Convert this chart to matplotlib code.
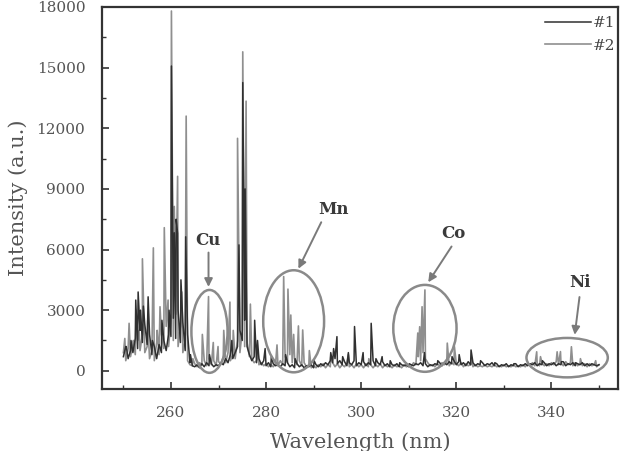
import numpy as np
import matplotlib
matplotlib.use("Agg")
import matplotlib.pyplot as plt
from matplotlib.patches import Ellipse

# ---------------- data ----------------
# baseline samples (0.5 nm spacing from 250 to 350 nm)
base_1 = [
    700, 1200, 600, 1000, 900, 1600, 1100, 2000, 1400, 2300,
    1300, 1800, 800, 1200, 600, 1300, 900, 1500, 1000, 1800,
    1700, 2600, 1600, 3000, 1400, 2400, 1000, 1800, 400, 250,
    200, 300, 150, 350, 200, 400, 250, 350, 200, 300,
    250, 400, 300, 600, 400, 800, 600, 900, 1200, 2000,
    1500, 2500, 1200, 800, 500, 700, 400, 600, 300, 500,
    250, 400, 200, 350, 250, 300, 200, 350, 250, 400,
    200, 300, 150, 350, 200, 300, 150, 250, 200, 300,
    150, 300, 200, 350, 250, 400, 300, 500, 400, 600,
    350, 500, 300, 450, 250, 400, 300, 500, 250, 400,
    300, 450, 250, 400, 300, 500, 250, 400, 300, 450,
    250, 350, 200, 300, 250, 350, 200, 300, 250, 300,
    200, 300, 250, 350, 300, 400, 250, 350, 200, 300,
    250, 350, 300, 400, 250, 400, 300, 450, 350, 500,
    300, 450, 300, 400, 250, 450, 300, 400, 250, 350,
    300, 400, 250, 350, 300, 400, 250, 350, 200, 300,
    250, 350, 200, 300, 250, 350, 200, 300, 250, 350,
    250, 350, 300, 400, 250, 350, 300, 400, 250, 350,
    300, 400, 250, 350, 300, 450, 250, 350, 300, 400,
    250, 350, 300, 400, 250, 350, 250, 350, 300, 250,
    300,
]
base_2 = [
    900, 500, 1100, 700, 1300, 800, 1500, 1000, 1800, 900,
    1200, 600, 1000, 500, 1400, 800, 1800, 1100, 2200, 1200,
    2500, 1500, 2800, 1200, 2200, 900, 1500, 500, 300, 250,
    350, 200, 400, 300, 500, 250, 600, 300, 500, 250,
    450, 350, 700, 400, 900, 500, 800, 600, 1500, 900,
    2000, 1200, 1400, 700, 600, 400, 500, 300, 400, 250,
    350, 200, 300, 200, 350, 250, 500, 300, 700, 400,
    800, 400, 600, 300, 500, 250, 400, 200, 300, 150,
    250, 150, 300, 200, 350, 150, 300, 200, 400, 200,
    350, 150, 300, 200, 400, 200, 300, 150, 350, 200,
    300, 150, 350, 200, 300, 150, 300, 200, 350, 150,
    300, 200, 250, 150, 300, 200, 250, 150, 300, 200,
    250, 200, 400, 300, 700, 500, 900, 600, 400, 250,
    300, 200, 350, 250, 400, 300, 450, 250, 400, 300,
    350, 250, 400, 200, 350, 250, 300, 200, 300, 200,
    250, 200, 300, 200, 250, 200, 300, 200, 250, 200,
    300, 200, 250, 200, 300, 200, 250, 200, 300, 200,
    350, 250, 400, 250, 350, 250, 400, 250, 350, 250,
    400, 300, 450, 300, 400, 250, 450, 300, 400, 250,
    400, 250, 350, 250, 350, 200, 350, 250, 300, 200,
    300,
]

# emission peaks (wavelength nm, intensity a.u.)
peak_wl_1 = [250.6, 251.6, 252.6, 253.1, 253.6, 254.2, 255.2, 256.1, 258.1, 259.6,
             260.1, 260.7, 261.1, 261.4, 262.1, 263.1, 264.1, 268.1, 272.8, 274.3,
             275.1, 275.6, 277.6, 278.2, 279.8, 281.1, 284.1, 286.1, 290.1, 293.6,
             294.2, 294.9, 296.1, 297.3, 298.6, 300.4, 302.1, 303.1, 304.4, 306.1,
             308.1, 310.1, 313.3, 316.1, 319.1, 320.6, 323.1, 325.1, 328.1, 332.1,
             338.1, 342.1, 345.1]
peak_in_1 = [1200, 1500, 3500, 3900, 3000, 3200, 3660, 1500, 2500, 3000,
             15080, 6830, 7500, 6800, 4500, 6630, 800, 800, 1500, 6230,
             14260, 9000, 2500, 1500, 1100, 700, 800, 600, 500, 900,
             1100, 1690, 700, 900, 2190, 900, 2350, 600, 700, 500,
             400, 350, 900, 500, 700, 800, 1030, 500, 400, 350,
             500, 450, 400]

peak_wl_2 = [250.3, 251.2, 252.1, 252.7, 253.3, 254.0, 255.1, 256.3, 257.1, 257.7,
             258.6, 259.4, 260.1, 260.7, 261.4, 262.3, 263.2, 264.6, 266.6, 267.9,
             268.9, 269.9, 271.1, 272.4, 273.1, 274.0, 275.1, 275.8, 276.7, 278.3,
             282.3, 283.7, 284.6, 285.2, 285.8, 286.8, 287.7, 289.1, 293.6, 297.3,
             301.6, 311.9, 312.3, 312.8, 313.4, 318.1, 319.6, 323.1, 336.9, 337.7,
             341.2, 341.9, 344.2, 346.1, 349.3]
peak_in_2 = [1600, 2350, 1500, 3000, 2000, 5540, 2500, 6080, 2000, 3170,
             7080, 3500, 17800, 8130, 9620, 3900, 12600, 600, 1800, 3670,
             1400, 1200, 2000, 3400, 2000, 11500, 15780, 13340, 3300, 900,
             1280, 4660, 4040, 2760, 1800, 2220, 2020, 1000, 700, 800,
             600, 1870, 2180, 3170, 4000, 1370, 1200, 600, 940, 700,
             940, 950, 1190, 600, 500]

series_labels = ["#1", "#2"]

# element annotations: label, text position, arrow tip, ellipse centre/size
elements = ["Cu", "Mn", "Co", "Ni"]
label_xy = [(267.8, 6450), (294.1, 8000), (319.4, 6800), (346.1, 4350)]
arrow_start = [(267.9, 5850), (291.6, 7350), (319.0, 6150), (345.9, 3650)]
arrow_tip = [(267.9, 4150), (286.8, 5050), (314.1, 4380), (344.9, 1780)]
ell_center = [(268.1, 1950), (285.8, 2450), (313.4, 2100), (343.3, 650)]
ell_width = [7.6, 12.8, 13.3, 17.1]
ell_height = [4100, 5050, 4300, 1950]


def spectrum(base, pwl, pin):
    bwl = np.linspace(250, 350, len(base))
    x = np.concatenate([bwl, np.asarray(pwl, float)])
    y = np.concatenate([np.asarray(base, float), np.asarray(pin, float)])
    order = np.argsort(x, kind="stable")
    return x[order], y[order]


x1, y1 = spectrum(base_1, peak_wl_1, peak_in_1)
x2, y2 = spectrum(base_2, peak_wl_2, peak_in_2)

# ---------------- figure ----------------
plt.rcParams["font.family"] = ["DejaVu Serif"]
fig = plt.figure(figsize=(6.23, 4.51), dpi=100)
ax = fig.add_axes([0.1637, 0.1375, 0.8283, 0.847])

ax.plot(x2, y2, color="#8f8f8f", lw=1.2, label=series_labels[1], zorder=2)
ax.plot(x1, y1, color="#303030", lw=1.1, label=series_labels[0], zorder=3)

for i, name in enumerate(elements):
    e = Ellipse(ell_center[i], ell_width[i], ell_height[i], fill=False,
                edgecolor="#8a8a8a", lw=1.8, zorder=4)
    ax.add_patch(e)
    ax.annotate("", xy=arrow_tip[i], xytext=arrow_start[i],
                arrowprops=dict(arrowstyle="-|>", color="#7a7a7a", lw=1.4,
                                mutation_scale=12, shrinkA=0, shrinkB=0),
                zorder=5)
    ax.text(label_xy[i][0], label_xy[i][1], name, ha="center", va="center",
            fontsize=12, fontweight="bold", color="#3a3a3a", zorder=5)

ax.set_xlim(245.5, 354)
ax.set_ylim(-900, 18000)
ax.set_xticks([260, 280, 300, 320, 340])
ax.set_xticks([250, 270, 290, 310, 330, 350], minor=True)
ax.set_yticks([0, 3000, 6000, 9000, 12000, 15000, 18000])
ax.set_yticks([1500, 4500, 7500, 10500, 13500, 16500], minor=True)
ax.tick_params(which="both", direction="in", top=False, right=False,
               labelsize=11, labelcolor="#555555", color="#333333")
ax.tick_params(which="major", length=5, width=1.2, pad=12)
ax.tick_params(which="minor", length=3, width=1.0)
for s in ax.spines.values():
    s.set_linewidth(1.6)
    s.set_color("#333333")

ax.set_xlabel("Wavelength (nm)", fontsize=15, color="#555555", labelpad=9)
ax.set_ylabel("Intensity (a.u.)", fontsize=15, color="#555555", labelpad=6)

handles, labels = ax.get_legend_handles_labels()
leg = ax.legend(handles[::-1], labels[::-1], loc="upper right",
                bbox_to_anchor=(1.012, 1.0), frameon=False,
                fontsize=11, handlelength=3.0, handletextpad=0.1,
                labelspacing=0.55, borderaxespad=0.2, labelcolor="#444444")

fig.savefig("out.png", dpi=100)
